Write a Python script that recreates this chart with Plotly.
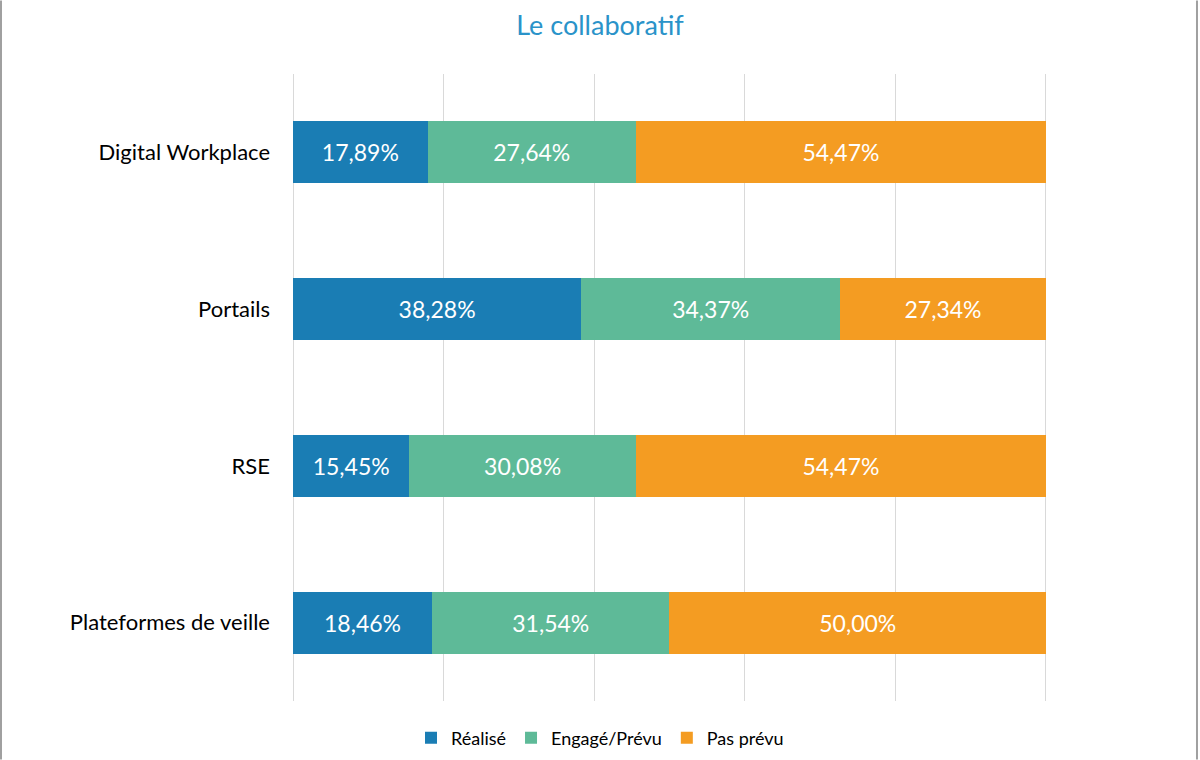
import plotly.graph_objects as go

categories = ["Digital Workplace", "Portails", "RSE", "Plateformes de veille"]
realise = [17.89, 38.28, 15.45, 18.46]
engage = [27.64, 34.37, 30.08, 31.54]
pas_prevu = [54.47, 27.34, 54.47, 50.00]
series_names = ["Réalisé", "Engagé/Prévu", "Pas prévu"]
colors = ["#1a7db4", "#5eba98", "#f49c22"]

FONT = "Lato"
fig = go.Figure()
for name, vals, col in zip(series_names, [realise, engage, pas_prevu], colors):
    fig.add_trace(go.Bar(
        y=categories, x=vals, name=name, orientation="h",
        marker=dict(color=col, line=dict(width=0)),
        texttemplate="%{x:.2f}%", textposition="inside", insidetextanchor="middle",
        textfont=dict(color="white", size=23, family=FONT),
        hoverinfo="skip",
    ))

W, H = 1200, 760
XMAX = 100.4
ml, mt, mb = 293, 73.5, 58.5
pw = 753 * XMAX / 100
mr = W - ml - pw

fig.update_layout(
    width=W, height=H, barmode="stack", bargap=0.605,
    separators=", ",
    paper_bgcolor="white", plot_bgcolor="white",
    margin=dict(l=ml, r=mr, t=mt, b=mb, autoexpand=False),
    title=dict(text="Le collaboratif", x=0.5, xanchor="center", y=1 - 26 / H, yanchor="middle",
               font=dict(family=FONT, size=27, color="#2a93c9")),
    font=dict(family=FONT, color="#000000"),
    xaxis=dict(range=[0, XMAX], dtick=20, showticklabels=False, showgrid=True,
               gridcolor="#d9d9d9", gridwidth=1, zeroline=True, zerolinecolor="#d9d9d9",
               zerolinewidth=1, showline=False, ticks=""),
    yaxis=dict(autorange="reversed", showgrid=False, showline=False, ticks="",
               tickfont=dict(size=22, family=FONT, color="#000000"), ticklabelstandoff=22),
    legend=dict(orientation="h", x=0.5, xanchor="center", xref="container",
                y=(H - 738) / H, yref="container",
                yanchor="middle", font=dict(size=18, family=FONT, color="#000000"),
                traceorder="normal", itemwidth=30),
    showlegend=True,
)
# decorative frame edges
for xpix in [1, W - 3]:
    fig.add_shape(type="line", xref="paper", yref="paper",
                  x0=(xpix - ml) / pw, x1=(xpix - ml) / pw,
                  y0=-mb / (H - mt - mb), y1=1 + mt / (H - mt - mb),
                  line=dict(color="#a0a0a0", width=2))

fig.write_html("out.html")
